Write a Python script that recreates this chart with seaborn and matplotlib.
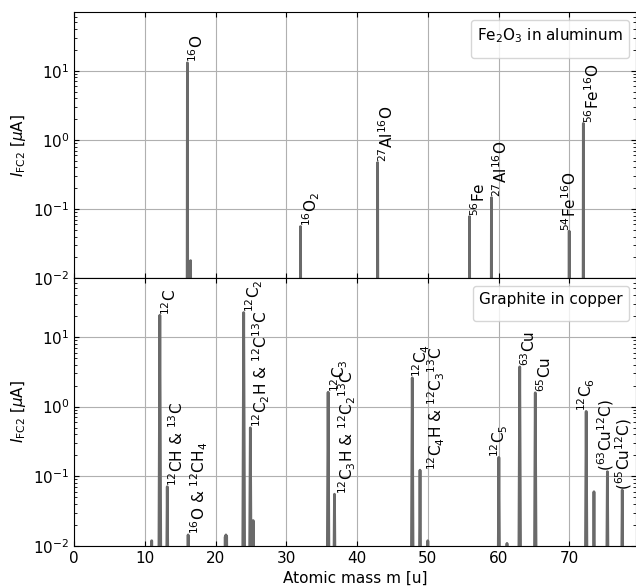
import numpy as np
import pandas as pd
import matplotlib
matplotlib.use("Agg")
import matplotlib.pyplot as plt
import matplotlib.transforms as mtransforms
import seaborn as sns

# ---------------- data ----------------
top_mass = [16.0, 16.45, 32.0, 42.9, 55.9, 59.0, 70.0, 72.0]
top_height = [13.0, 0.018, 0.056, 0.47, 0.078, 0.146, 0.048, 1.73]
top_labels = ["$^{16}$O", None, "$^{16}$O$_2$", "$^{27}$Al$^{16}$O", "$^{56}$Fe",
              "$^{27}$Al$^{16}$O", "$^{54}$Fe$^{16}$O", "$^{56}$Fe$^{16}$O"]

bot_mass = [10.95, 12.1, 13.15, 16.1, 21.35, 21.45, 21.55, 23.96, 24.9, 25.3,
            35.9, 36.8, 47.8, 48.9, 50.0, 60.05, 61.2, 63.0, 65.2, 72.4, 73.5,
            75.4, 77.5]
bot_height = [0.0118, 20.6, 0.0705, 0.0143, 0.0135, 0.0143, 0.0135, 22.5, 0.495,
              0.023, 1.61, 0.055, 2.59, 0.122, 0.0118, 0.186, 0.0108, 3.73, 1.58,
              0.853, 0.0597, 0.116, 0.063]
bot_labels = [None, "$^{12}$C", "$^{12}$CH & $^{13}$C", "$^{16}$O & $^{12}$CH$_4$",
              None, None, None, "$^{12}$C$_2$", "$^{12}$C$_2$H & $^{12}$C$^{13}$C", None,
              "$^{12}$C$_3$", "$^{12}$C$_3$H & $^{12}$C$_2{}^{13}$C", "$^{12}$C$_4$",
              "$^{12}$C$_4$H & $^{12}$C$_3{}^{13}$C", None, "$^{12}$C$_5$", None,
              "$^{63}$Cu", "$^{65}$Cu", "$^{12}$C$_6$", None,
              "($^{63}$Cu$^{12}$C)", "($^{65}$Cu$^{12}$C)"]

x_ticks = [0, 10, 20, 30, 40, 50, 60, 70]
legend_top = "Fe$_2$O$_3$ in aluminum"
legend_bot = "Graphite in copper"

# ---------------- style / placement ----------------
FLOOR = 1e-4
top_align = ["left", None, "left", "left", "left", "left", "center", "left"]
bot_align = [None, "left", "left", "left", None, None, None, "left", "left", None,
             "left", "left", "left", "left", None, "center", None, "left", "left",
             "center", None, "center", "center"]
# horizontal label nudges in points (index -> dx)
top_nudge = {}
bot_nudge = {11: 1.5, 12: -1.0, 13: 4.0, 21: -1.5, 22: 1.0}

plt.rcParams["font.size"] = 11


def spectrum(mass, height, hw):
    xs, ys = [], []
    for m, h in zip(mass, height):
        xs += [m - hw, m, m + hw]
        ys += [FLOOR, h, FLOOR]
    return pd.DataFrame({"m": xs, "I": ys})


fig = plt.figure(figsize=(6.36, 5.88), dpi=100)
W = 0.8838
ax1 = fig.add_axes([0.1168, 0.5267, W, 0.4524])
ax2 = fig.add_axes([0.1168, 0.0719, W, 0.4548])

color = "#6a6a6a"
specs = [
    (ax1, spectrum(top_mass, top_height, 0.06), top_mass, top_height, top_labels,
     top_align, top_nudge, legend_top),
    (ax2, spectrum(bot_mass, bot_height, 0.2), bot_mass, bot_height, bot_labels,
     bot_align, bot_nudge, legend_bot),
]

for ax, df, masses, heights, labels, aligns, nudge, leg in specs:
    sns.lineplot(data=df, x="m", y="I", ax=ax, color=color, lw=2, sort=False,
                 estimator=None)
    ax.set_yscale("log")
    ax.set_ylim(1e-2, 70)
    ax.set_xlim(0, 79.5)
    ax.set_xticks(x_ticks)
    ax.grid(True, which="major", color="#b0b0b0", lw=0.8)
    ax.set_axisbelow(True)
    ax.tick_params(which="both", direction="in", top=True, right=True, labelsize=11)
    ax.set_ylabel(r"$I_{\mathrm{FC2}}$ [$\mu$A]", fontsize=11)
    for i, (m, h, lab, al) in enumerate(zip(masses, heights, labels, aligns)):
        if lab is None:
            continue
        dx = nudge.get(i, 0.0)
        tr = ax.transData + mtransforms.ScaledTranslation(dx / 72, 0, fig.dpi_scale_trans)
        ax.text(m, h * 1.02, lab, rotation=90, ha=al, va="bottom", fontsize=11,
                color="black", transform=tr)
    ax.legend(handles=[], labels=[], title=leg, loc="upper right",
              title_fontsize=11)

ax1.set_xlabel("")
ax1.tick_params(labelbottom=False)
ax2.set_xlabel("Atomic mass m [u]", fontsize=11)

fig.savefig("out.png", dpi=100)
